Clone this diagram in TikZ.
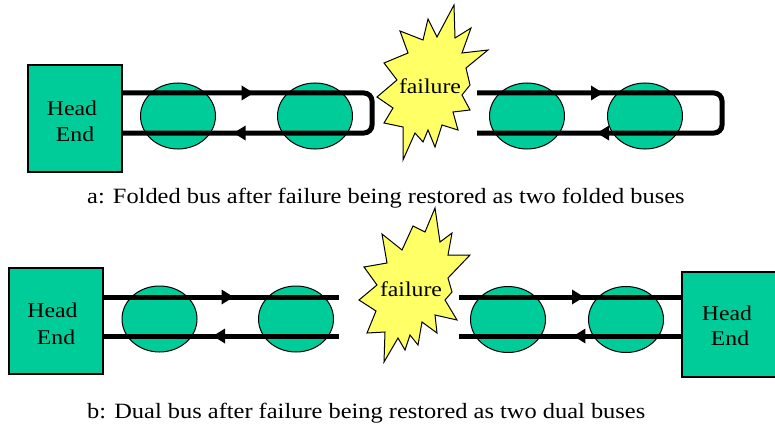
\documentclass[tikz,border=0pt]{standalone}
\usepackage{fontspec}
\setmainfont{Liberation Serif}
\usetikzlibrary{shapes.geometric,decorations.markings}
\definecolor{nodegreen}{HTML}{00CC99}
\definecolor{burstyellow}{HTML}{FFFF66}
% slightly widened lettering
\newcommand{\hstretch}[1]{\scalebox{1.13}[1]{#1}}
\newcommand{\capstretch}[1]{\scalebox{1.12}[1]{#1}}
% filled triangular tip placed on a bus line
\newcommand{\bustip}{\fill[sharp corners] (-12pt,7.5pt) -- (0pt,0pt) -- (-12pt,-7.5pt) -- cycle;}
\tikzset{
  headend/.style={draw=black, line width=1.2pt, fill=nodegreen, inner sep=0pt},
  station/.style={ellipse, draw=black, line width=1pt, fill=nodegreen,
    minimum width=75pt, minimum height=66pt, inner sep=0pt},
  hetext/.style={font=\fontsize{21}{26}\selectfont, inner sep=0pt, anchor=base},
  burst/.style={draw=black, line width=1pt, fill=burstyellow, line join=miter},
  burstlabel/.style={font=\fontsize{21}{26}\selectfont, inner sep=0pt, anchor=base},
  caption/.style={font=\fontsize{21.8}{26}\selectfont, inner sep=0pt, anchor=base west},
  bus/.style={line width=5pt},
  onetip/.style={postaction={decorate}, decoration={markings,
    mark=at position #1 with {\bustip}}},
  twotips/.style 2 args={postaction={decorate}, decoration={markings,
    mark=at position #1 with {\bustip}, mark=at position #2 with {\bustip}}}
}
\begin{document}
\begin{tikzpicture}[x=1pt,y=-1pt]
\clip (0,0) rectangle (775,433);
\fill[white] (0,0) rectangle (775,433);

% ---------- a: folded bus ----------
\node[headend, minimum width=94pt, minimum height=107pt] (he1) at (75,118.5) {};
\node[hetext] (he1a) at (72,115) {\hstretch{Head}};
\node[hetext] (he1b) at (75,141) {\hstretch{End}};

\node[station] (s1) at (178,116) {};
\node[station] (s2) at (315,116) {};
\node[station] (s3) at (527,116) {};
\node[station] (s4) at (645,116) {};

\coordinate (fa) at (372,93);
\coordinate (fb) at (372,133);
\draw[bus, rounded corners=8pt, twotips={131pt}{-111pt}]
  (he1.east |- fa) -- (fa) -- (fb) -- (he1.east |- fb);

\coordinate (ga) at (477,93);
\coordinate (gb) at (722,93);
\coordinate (gc) at (722,133);
\coordinate (gd) at (477,133);
\draw[bus, rounded corners=8pt, twotips={126pt}{-120pt}]
  (ga) -- (gb) -- (gc) -- (gd);

\draw[burst] (454,5) -- (455,38) -- (471,28) -- (462,53) -- (488,50)
  -- (466,68) -- (470,85) -- (462,95) -- (470,110) -- (453,112)
  -- (458,130) -- (442,125) -- (435,147) -- (428,130) -- (423,142)
  -- (415,133) -- (403,160) -- (403,127) -- (384,123) -- (393,108)
  -- (377,97) -- (397,80) -- (384,63) -- (408,53) -- (400,31)
  -- (423,40) -- (428,19) -- (437,37) -- cycle;
\node[burstlabel] (fail1) at (430,94) {\hstretch{failure}};

\node[caption] (capa) at (87,203)
  {\capstretch{a: Folded bus after failure being restored as two folded buses}};

% ---------- b: dual bus ----------
\node[headend, minimum width=94pt, minimum height=106pt] (he2) at (56,321) {};
\node[hetext] (he2a) at (52.5,317) {\hstretch{Head}};
\node[hetext] (he2b) at (56,344) {\hstretch{End}};

\node[headend, minimum width=95pt, minimum height=105pt] (he3) at (729.5,324.5) {};
\node[hetext] (he3a) at (727,320) {\hstretch{Head}};
\node[hetext] (he3b) at (730,345) {\hstretch{End}};

\node[station] (s5) at (159.5,319) {};
\node[station] (s6) at (296,319) {};
\node[station] (s7) at (508,319.5) {};
\node[station] (s8) at (626,319.5) {};

\coordinate (la) at (339,297);
\coordinate (lb) at (339,336);
\draw[bus, onetip=130pt] (he2.east |- la) -- (la);
\draw[bus, onetip=126pt] (lb) -- (he2.east |- lb);

\coordinate (ra) at (459,297);
\coordinate (rb) at (459,336);
\draw[bus, onetip=125pt] (ra) -- (he3.west |- ra);
\draw[bus, onetip=108pt] (he3.west |- rb) -- (rb);

\draw[burst] (435,208) -- (425,232) -- (413,226) -- (402,250) -- (382,234)
  -- (387,263) -- (364,267) -- (377,285) -- (359,300) -- (376,311)
  -- (367,333) -- (385,332) -- (384,362) -- (398,338) -- (405,350)
  -- (410,335) -- (418,345) -- (422,322) -- (437,333) -- (435,315)
  -- (457,320) -- (445,300) -- (452,292) -- (448,278) -- (470,255)
  -- (448,255) -- (452,233) -- (440,242) -- cycle;
\node[burstlabel] (fail2) at (411,296) {\hstretch{failure}};

\node[caption] (capb) at (87,418)
  {\capstretch{b: Dual bus after failure being restored as two dual buses}};
\end{tikzpicture}
\end{document}
